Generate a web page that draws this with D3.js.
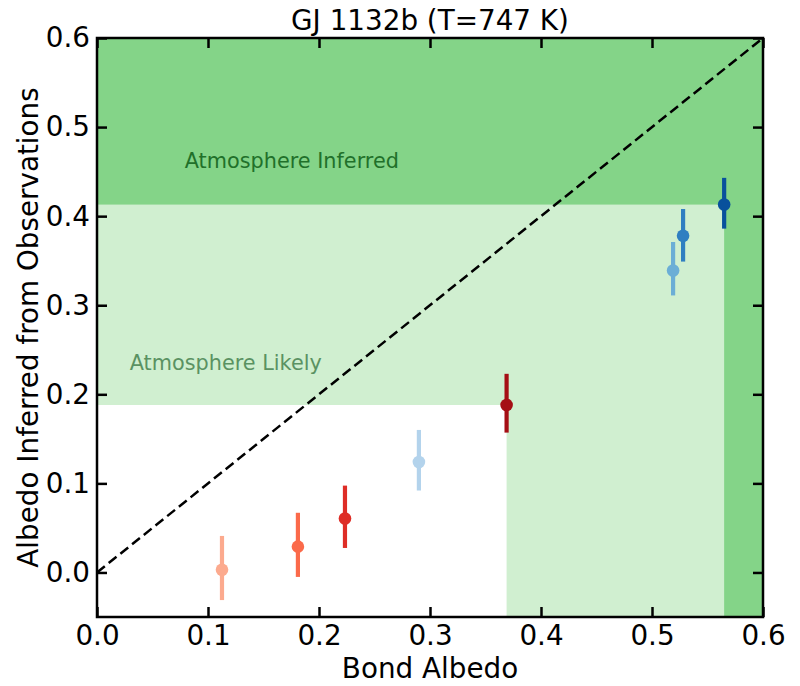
<!DOCTYPE html>
<html lang="en">
<head>
<meta charset="utf-8">
<title>GJ 1132b</title>
<script src="https://cdn.jsdelivr.net/npm/d3@7"></script>
<style>
  body { margin: 0; background: #fff; }
  text { font-family: "DejaVu Sans", sans-serif; }
</style>
</head>
<body>
<script>
// data
var bondAlbedo = [0.1126, 0.181, 0.2234, 0.290, 0.369, 0.519, 0.528, 0.565];
var inferred   = [0.003, 0.029, 0.0605, 0.124, 0.188, 0.339, 0.378, 0.413];
var errLow     = [0.034, 0.034, 0.033, 0.032, 0.031, 0.028, 0.029, 0.027];
var errHigh    = [0.038, 0.038, 0.037, 0.036, 0.035, 0.032, 0.030, 0.030];
var colors     = ["#fcaa8e", "#fb6a4a", "#de2d26", "#b3d3ec", "#a50f15", "#6baed6", "#2f7fc1", "#08519c"];
var xTicks = [0.0, 0.1, 0.2, 0.3, 0.4, 0.5, 0.6];
var yTicks = [0.0, 0.1, 0.2, 0.3, 0.4, 0.5, 0.6];
var likelyX = 0.369, likelyY = 0.188;      // "likely" corner
var inferredX = 0.565, inferredY = 0.413;  // "inferred" corner

var W = 800, H = 686;
var m = {left: 97, right: 763, top: 38, bottom: 617};
var fs = 27.8;

var svg = d3.select("body").append("svg")
    .attr("width", W)
    .attr("height", H);

var x = d3.scaleLinear().domain([0, 0.6]).range([m.left, m.right]);
var y = d3.scaleLinear().domain([-0.05, 0.6]).range([m.bottom, m.top]);

// shaded regions
svg.append("rect")
    .attr("x", x(likelyX)).attr("y", y(0.6))
    .attr("width", x(0.6) - x(likelyX)).attr("height", y(-0.05) - y(0.6))
    .attr("fill", "#d0efd0");
svg.append("rect")
    .attr("x", x(0)).attr("y", y(0.6))
    .attr("width", x(0.6) - x(0)).attr("height", y(likelyY) - y(0.6))
    .attr("fill", "#d0efd0");
svg.append("rect")
    .attr("x", x(inferredX)).attr("y", y(0.6))
    .attr("width", x(0.6) - x(inferredX)).attr("height", y(-0.05) - y(0.6))
    .attr("fill", "#84d488");
svg.append("rect")
    .attr("x", x(0)).attr("y", y(0.6))
    .attr("width", x(0.6) - x(0)).attr("height", y(inferredY) - y(0.6))
    .attr("fill", "#84d488");

svg.append("text")
    .attr("x", x(0.079)).attr("y", y(0.4535))
    .attr("font-size", 20.8)
    .attr("fill", "#21702a")
    .text("Atmosphere Inferred");
svg.append("text")
    .attr("x", x(0.0295)).attr("y", y(0.2275))
    .attr("font-size", 20.8)
    .attr("fill", "#5a9262")
    .text("Atmosphere Likely");

// 1:1 line
svg.append("line")
    .attr("x1", x(0)).attr("y1", y(0))
    .attr("x2", x(0.6)).attr("y2", y(0.6))
    .attr("stroke", "black")
    .attr("stroke-width", 2.5)
    .attr("stroke-dasharray", "10,5");

// error bars and points
var pts = bondAlbedo.map(function(d, i) {
    return {x: d, y: inferred[i], lo: errLow[i], hi: errHigh[i], c: colors[i]};
});
svg.selectAll("line.err")
    .data(pts)
    .enter()
    .append("line")
    .attr("class", "err")
    .attr("x1", function(d){return x(d.x);})
    .attr("x2", function(d){return x(d.x);})
    .attr("y1", function(d){return y(d.y - d.lo);})
    .attr("y2", function(d){return y(d.y + d.hi);})
    .attr("stroke", function(d){return d.c;})
    .attr("stroke-width", 4.2);
svg.selectAll("circle")
    .data(pts)
    .enter()
    .append("circle")
    .attr("cx", function(d){return x(d.x);})
    .attr("cy", function(d){return y(d.y);})
    .attr("r", 6.3)
    .attr("fill", function(d){return d.c;});

// axes, ticks inward on all sides
function styleAxis(g) {
    g.select(".domain").remove();
    g.selectAll(".tick line").attr("stroke", "black").attr("stroke-width", 2.5);
    g.selectAll(".tick text").attr("font-size", fs).attr("font-family", "DejaVu Sans").attr("fill", "black");
}
var fmt = d3.format(".1f");
svg.append("g").attr("transform", "translate(0," + m.bottom + ")")
    .call(d3.axisBottom(x).tickValues(xTicks).tickFormat(fmt).tickSizeInner(-10).tickPadding(8))
    .call(styleAxis);
svg.append("g").attr("transform", "translate(" + m.left + ",0)")
    .call(d3.axisLeft(y).tickValues(yTicks).tickFormat(fmt).tickSizeInner(-10).tickPadding(7))
    .call(styleAxis);
svg.append("g").attr("transform", "translate(0," + m.top + ")")
    .call(d3.axisTop(x).tickValues(xTicks).tickFormat("").tickSizeInner(-10))
    .call(styleAxis);
svg.append("g").attr("transform", "translate(" + m.right + ",0)")
    .call(d3.axisRight(y).tickValues(yTicks).tickFormat("").tickSizeInner(-10))
    .call(styleAxis);

svg.append("rect")
    .attr("x", m.left).attr("y", m.top)
    .attr("width", m.right - m.left).attr("height", m.bottom - m.top)
    .attr("fill", "none").attr("stroke", "black").attr("stroke-width", 2.5);

svg.append("text")
    .attr("x", (m.left + m.right) / 2).attr("y", 30)
    .attr("text-anchor", "middle").attr("font-size", fs)
    .text("GJ 1132b (T=747 K)");
svg.append("text")
    .attr("x", (m.left + m.right) / 2).attr("y", 678)
    .attr("text-anchor", "middle").attr("font-size", fs)
    .text("Bond Albedo");
svg.append("text")
    .attr("transform", "translate(38," + ((m.top + m.bottom) / 2) + ") rotate(-90)")
    .attr("text-anchor", "middle").attr("font-size", fs)
    .text("Albedo Inferred from Observations");
</script>
</body>
</html>
